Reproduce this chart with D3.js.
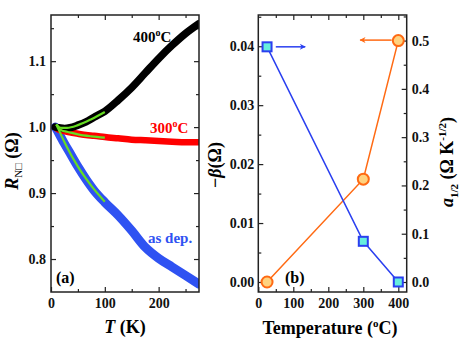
<!DOCTYPE html>
<html>
<head>
<meta charset="utf-8">
<script src="https://cdn.jsdelivr.net/npm/d3@7"></script>
<style>
  body { margin: 0; background: #fff; }
  svg { font-family: "Liberation Serif", "Times New Roman", serif; font-weight: bold; }
</style>
</head>
<body>
<div id="chart"></div>
<script>
// panel (a): R_N vs T
const tAxis = [8, 15, 25, 35, 50, 65, 80, 100, 125, 150, 175, 200, 225, 250, 275];
const r400 = [1.0, 0.999, 0.998, 0.999, 1.003, 1.008, 1.015, 1.024, 1.041, 1.060, 1.082, 1.104, 1.124, 1.142, 1.157];
const r300 = [1.0, 0.996, 0.994, 0.992, 0.990, 0.988, 0.987, 0.985, 0.983, 0.981, 0.980, 0.979, 0.978, 0.977, 0.977];
const rAsDep = [1.0, 0.990, 0.975, 0.961, 0.940, 0.921, 0.904, 0.886, 0.866, 0.843, 0.818, 0.801, 0.788, 0.775, 0.762];

const tFit = [10, 15, 20, 30, 50, 75, 100];
const fit400 = [1.004, 1.000, 0.999, 0.999, 1.003, 1.012, 1.023];
const fit300 = [1.004, 0.998, 0.995, 0.993, 0.989, 0.986, 0.984];
const fitAsDep = [1.004, 0.995, 0.986, 0.969, 0.940, 0.911, 0.887];

// panel (b): fit parameters vs annealing temperature
const annealT = [25, 300, 400];
const beta = [0.0399, 0.0069, 0.0];
const a12 = [0.0, 0.213, 0.5];

const width = 463;
const height = 348;
const plotTop = 15, plotBottom = 292;
const serif = '"Liberation Serif", "Times New Roman", serif';

const svg = d3.select("#chart")
    .append("svg")
    .attr("width", width)
    .attr("height", height)

svg.append("defs").html(`
  <clipPath id="clipA"><rect x="51" y="15" width="148" height="277"></rect></clipPath>
  <marker id="arrBlue" viewBox="0 0 10 10" refX="9" refY="5" markerWidth="9" markerHeight="6" markerUnits="userSpaceOnUse" orient="auto"><path d="M0,0 L10,5 L0,10 L3,5 Z" fill="#2a3ff0"></path></marker>
  <marker id="arrOrange" viewBox="0 0 10 10" refX="9" refY="5" markerWidth="9" markerHeight="6" markerUnits="userSpaceOnUse" orient="auto"><path d="M0,0 L10,5 L0,10 L3,5 Z" fill="#ff6a13"></path></marker>
`)

// helper for inward ticks
function drawAxis(g, axis, minorAxis) {
    g.call(axis)
    g.attr("font-family", serif).attr("font-size", 14)
    g.selectAll("text")
        .style("font-family", serif)
        .style("font-size", "14px")
        .style("font-weight", "bold")
        .attr("fill", "#111")
    g.select(".domain").remove()
    g.selectAll("line").attr("stroke", "#222").attr("stroke-width", 1.2)
    if (minorAxis) {
        const m = svg.append("g").attr("transform", g.attr("transform")).call(minorAxis)
        m.select(".domain").remove()
        m.selectAll("text").remove()
        m.selectAll("line").attr("stroke", "#222").attr("stroke-width", 1.2)
    }
}

// ---------- panel (a)
const xA = d3.scaleLinear().domain([0, 275]).range([51, 199])
const yA = d3.scaleLinear().domain([0.75, 1.17]).range([plotBottom, plotTop])

drawAxis(svg.append("g").attr("transform", `translate(0,${plotBottom})`),
    d3.axisBottom(xA).tickValues([0, 100, 200]).tickFormat(d3.format("d")).tickSize(-5).tickPadding(6),
    d3.axisBottom(xA).tickValues([50, 150, 250]).tickSize(-3))
drawAxis(svg.append("g").attr("transform", `translate(0,${plotTop})`),
    d3.axisTop(xA).tickValues([100, 200]).tickFormat("").tickSize(-5),
    d3.axisTop(xA).tickValues([50, 150, 250]).tickSize(-3))
drawAxis(svg.append("g").attr("transform", "translate(51,0)"),
    d3.axisLeft(yA).tickValues([0.8, 0.9, 1.0, 1.1]).tickFormat(d3.format(".1f")).tickSize(-5).tickPadding(5),
    d3.axisLeft(yA).tickValues([0.85, 0.95, 1.05, 1.15]).tickSize(-3))
drawAxis(svg.append("g").attr("transform", "translate(199,0)"),
    d3.axisRight(yA).tickValues([0.8, 0.9, 1.0, 1.1]).tickFormat("").tickSize(-5),
    d3.axisRight(yA).tickValues([0.85, 0.95, 1.05, 1.15]).tickSize(-3))

const lineA = d3.line().x(d => xA(d[0])).y(d => yA(d[1])).curve(d3.curveMonotoneX)
const gA = svg.append("g").attr("clip-path", "url(#clipA)")

const curves = [
    { r: rAsDep, color: "#2f52f2", w: 9 },
    { r: r300, color: "#ff0000", w: 6.5 },
    { r: r400, color: "#000000", w: 7.5 }
]
curves.forEach(c => {
    gA.append("path")
        .attr("d", lineA(d3.zip(tAxis, c.r)))
        .attr("fill", "none")
        .attr("stroke", c.color)
        .attr("stroke-width", c.w)
        .attr("stroke-linecap", "round")
})
;[fitAsDep, fit300, fit400].forEach(f => {
    gA.append("path")
        .attr("d", lineA(d3.zip(tFit, f)))
        .attr("fill", "none")
        .attr("stroke", "#66dd22")
        .attr("stroke-width", 2.2)
})

svg.append("rect").attr("x", 51).attr("y", plotTop).attr("width", 148).attr("height", plotBottom - plotTop)
    .attr("fill", "none").attr("stroke", "#222").attr("stroke-width", 1.5)

function degLabel(x, y, txt, color) {
    const t = svg.append("text").attr("x", x).attr("y", y).attr("fill", color).style("font-size", "15px")
    t.append("tspan").text(txt)
    t.append("tspan").attr("dy", -6).style("font-size", "10px").text("o")
    t.append("tspan").attr("dy", 6).text("C")
}
degLabel(133, 42, "400", "#000")
degLabel(150, 133, "300", "#ff0000")
svg.append("text").attr("x", 148).attr("y", 243).attr("fill", "#2f52f2").style("font-size", "15px").text("as dep.")
svg.append("text").attr("x", 56).attr("y", 283).style("font-size", "16px").text("(a)")

// x title (a)
const tT = svg.append("text").attr("x", 125).attr("y", 333).attr("text-anchor", "middle").style("font-size", "18px")
tT.append("tspan").style("font-style", "italic").text("T")
tT.append("tspan").text(" (K)")

// y title (a)
const tR = svg.append("text").attr("transform", "translate(18,161) rotate(-90)").attr("text-anchor", "middle").style("font-size", "18px")
tR.append("tspan").style("font-style", "italic").text("R")
tR.append("tspan").attr("dy", 4).style("font-size", "11px").style("font-weight", "normal").text("N□")
tR.append("tspan").attr("dy", -4).text(" (Ω)")

// ---------- panel (b)
const xB = d3.scaleLinear().domain([0, 424]).range([258.3, 406.7])
const yB = d3.scaleLinear().domain([-0.0017, 0.0453]).range([plotBottom, plotTop])
const yB2 = d3.scaleLinear().domain([-0.0207, 0.553]).range([plotBottom, plotTop])

drawAxis(svg.append("g").attr("transform", `translate(0,${plotBottom})`),
    d3.axisBottom(xB).tickValues([0, 100, 200, 300, 400]).tickFormat(d3.format("d")).tickSize(-5).tickPadding(6),
    d3.axisBottom(xB).tickValues([50, 150, 250, 350]).tickSize(-3))
drawAxis(svg.append("g").attr("transform", `translate(0,${plotTop})`),
    d3.axisTop(xB).tickValues([100, 200, 300, 400]).tickFormat("").tickSize(-5),
    d3.axisTop(xB).tickValues([50, 150, 250, 350]).tickSize(-3))
drawAxis(svg.append("g").attr("transform", "translate(258.3,0)"),
    d3.axisLeft(yB).tickValues([0, 0.01, 0.02, 0.03, 0.04]).tickFormat(d3.format(".2f")).tickSize(-5).tickPadding(4),
    d3.axisLeft(yB).tickValues([0.005, 0.015, 0.025, 0.035, 0.045]).tickSize(-3))
drawAxis(svg.append("g").attr("transform", "translate(406.7,0)"),
    d3.axisRight(yB2).tickValues([0, 0.1, 0.2, 0.3, 0.4, 0.5]).tickFormat(d3.format(".1f")).tickSize(-5).tickPadding(5),
    d3.axisRight(yB2).tickValues([0.05, 0.15, 0.25, 0.35, 0.45, 0.55]).tickSize(-3))

svg.append("rect").attr("x", 258.3).attr("y", plotTop).attr("width", 406.7 - 258.3).attr("height", plotBottom - plotTop)
    .attr("fill", "none").attr("stroke", "#222").attr("stroke-width", 1.5)

const betaPts = d3.zip(annealT, beta)
const aPts = d3.zip(annealT, a12)

svg.append("path")
    .attr("d", d3.line().x(d => xB(d[0])).y(d => yB2(d[1]))(aPts))
    .attr("fill", "none").attr("stroke", "#ff6a13").attr("stroke-width", 1.5)
svg.append("path")
    .attr("d", d3.line().x(d => xB(d[0])).y(d => yB(d[1]))(betaPts))
    .attr("fill", "none").attr("stroke", "#2a3ff0").attr("stroke-width", 1.5)

svg.selectAll("circle.a12")
    .data(aPts)
    .join("circle")
    .attr("class", "a12")
    .attr("cx", d => xB(d[0]))
    .attr("cy", d => yB2(d[1]))
    .attr("r", 5.5)
    .attr("fill", "#ffd27f")
    .attr("stroke", "#ff6a13")
    .attr("stroke-width", 2)

svg.selectAll("rect.beta")
    .data(betaPts)
    .join("rect")
    .attr("class", "beta")
    .attr("x", d => xB(d[0]) - 4.5)
    .attr("y", d => yB(d[1]) - 4.5)
    .attr("width", 9)
    .attr("height", 9)
    .attr("fill", "#66eedd")
    .attr("stroke", "#2a3ff0")
    .attr("stroke-width", 2)

// arrows pointing to each curve's axis
svg.append("line")
    .attr("x1", xB(50)).attr("x2", xB(134))
    .attr("y1", yB(0.0399)).attr("y2", yB(0.0399))
    .attr("stroke", "#2a3ff0").attr("stroke-width", 1.5).attr("marker-end", "url(#arrBlue)")
svg.append("line")
    .attr("x1", xB(381)).attr("x2", xB(291))
    .attr("y1", yB2(0.501)).attr("y2", yB2(0.501))
    .attr("stroke", "#ff6a13").attr("stroke-width", 1.5).attr("marker-end", "url(#arrOrange)")

svg.append("text").attr("x", 285).attr("y", 283).style("font-size", "16px").text("(b)")

// x title (b)
const tTemp = svg.append("text").attr("x", 330).attr("y", 334).attr("text-anchor", "middle").style("font-size", "18px")
tTemp.append("tspan").text("Temperature (")
tTemp.append("tspan").attr("dy", -7).style("font-size", "11px").text("o")
tTemp.append("tspan").attr("dy", 7).text("C)")

// left y title (b)
const tB = svg.append("text").attr("transform", "translate(221,165) rotate(-90)").attr("text-anchor", "middle").style("font-size", "18px")
tB.append("tspan").text("−")
tB.append("tspan").style("font-style", "italic").text("β")
tB.append("tspan").text("(Ω)")

// right y title (b)
const tA = svg.append("text").attr("transform", "translate(453,162) rotate(-90)").attr("text-anchor", "middle").style("font-size", "18px")
tA.append("tspan").style("font-style", "italic").text("a")
tA.append("tspan").attr("dy", 5).style("font-size", "11px").text("1/2")
tA.append("tspan").attr("dy", -5).text(" (Ω K")
tA.append("tspan").attr("dy", -7).style("font-size", "11px").text("-1/2")
tA.append("tspan").attr("dy", 7).text(")")
</script>
</body>
</html>
